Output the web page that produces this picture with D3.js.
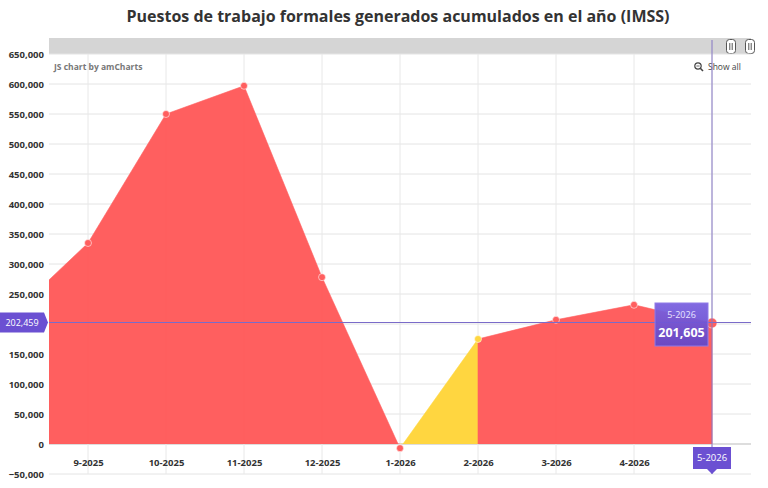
<!DOCTYPE html>
<html><head><meta charset="utf-8">
<script src="https://cdn.jsdelivr.net/npm/d3@7"></script>
<style>
html,body{margin:0;padding:0;background:#fff;}
svg{display:block;font-family:"Open Sans",sans-serif;}
</style></head>
<body>
<svg id="chart" width="768" height="488"></svg>
<script>
// ---- data ----
const months = ["8-2025","9-2025","10-2025","11-2025","12-2025","1-2026","2-2026","3-2026","4-2026","5-2026"];
const values = [212000, 335000, 550000, 597000, 278000, -7000, 175000, 207000, 232000, 201605];
const visibleMonths = ["9-2025","10-2025","11-2025","12-2025","1-2026","2-2026","3-2026","4-2026","5-2026"];
const highlightedSegmentEnds = ["2-2026"];
const yTicks = [-50000,0,50000,100000,150000,200000,250000,300000,350000,400000,450000,500000,550000,600000,650000];
const titleText = "Puestos de trabajo formales generados acumulados en el año (IMSS)";
const cursorMonth = "5-2026";
const cursorValue = 202459;

// ---- styles ----
const RED = "#ff5f5f", YELLOW = "#ffd640", PURPLE = "#6b50d2", TXT = "#333";
const L = 49, R = 751, T = 54, B = 474;

const svg = d3.select("#chart");
const x = d3.scalePoint().domain(months).range([10, 712]);
const y = d3.scaleLinear().domain([-50000, 650000]).range([B, T]);
const cx = x(cursorMonth), cy = y(cursorValue);

svg.append("text").attr("x", 398).attr("y", 22).attr("text-anchor", "middle")
  .attr("font-size", 16).attr("font-weight", "bold").attr("fill", TXT).text(titleText);

// scrollbar
svg.append("rect").attr("x", L).attr("y", 38).attr("width", R - L).attr("height", 16).attr("fill", "#d5d5d5");
[731, 750].forEach(gx => {
  const g = svg.append("g");
  g.append("rect").attr("x", gx - 4.5).attr("y", 39.5).attr("width", 9).attr("height", 14).attr("rx", 3)
    .attr("fill", "#fff").attr("stroke", "#555").attr("stroke-width", 1);
  g.append("line").attr("x1", gx - 1.2).attr("x2", gx - 1.2).attr("y1", 43).attr("y2", 50).attr("stroke", "#555");
  g.append("line").attr("x1", gx + 1.2).attr("x2", gx + 1.2).attr("y1", 43).attr("y2", 50).attr("stroke", "#555");
});

const defs = svg.append("defs");
defs.append("clipPath").attr("id", "plot").append("rect")
  .attr("x", L).attr("y", T).attr("width", R - L).attr("height", B - T);
defs.append("clipPath").attr("id", "above0").append("rect")
  .attr("x", L).attr("y", T).attr("width", R - L).attr("height", y(0) - T);

// grid
const grid = svg.append("g");
grid.selectAll(".hg").data(yTicks).join("line")
  .attr("x1", L).attr("x2", R).attr("y1", d => y(d)).attr("y2", d => y(d))
  .attr("stroke", d => d === 0 ? "#bbb" : "#e4e4e4").attr("stroke-width", 1);
grid.selectAll(".vg").data(visibleMonths).join("line")
  .attr("x1", d => x(d)).attr("x2", d => x(d)).attr("y1", T).attr("y2", B)
  .attr("stroke", "#e8e8e8").attr("stroke-width", 1);

// y axis (label under the cursor tooltip is hidden, as in the original)
const yAxis = svg.append("g").attr("transform", `translate(${L - 5},0)`)
  .call(d3.axisLeft(y).tickValues(yTicks).tickSize(0).tickPadding(0).tickFormat(d3.format(",")));
yAxis.select(".domain").remove();
yAxis.selectAll("text").attr("font-size", 9.5).attr("font-weight", "bold").attr("fill", TXT)
  .attr("font-family", "Open Sans");
yAxis.selectAll(".tick").filter(d => Math.abs(y(d) - cy) < 12).remove();

// x axis
const xAxis = svg.append("g").attr("transform", `translate(0,${y(0)})`)
  .call(d3.axisBottom(x).tickValues(visibleMonths).tickSize(0).tickPadding(15));
xAxis.select(".domain").remove();
xAxis.selectAll("text").attr("font-size", 9.5).attr("font-weight", "bold").attr("fill", TXT)
  .attr("font-family", "Open Sans");
xAxis.selectAll(".tick").filter(d => d === cursorMonth).remove();

// areas per segment
const pts = months.map((m, i) => ({m, v: values[i]}));
const area = d3.area().x(d => x(d.m)).y0(y(0)).y1(d => y(d.v));
const fills = svg.append("g").attr("clip-path", "url(#plot)").append("g").attr("clip-path", "url(#above0)");
for (let i = 0; i < pts.length - 1; i++) {
  const hl = highlightedSegmentEnds.includes(pts[i + 1].m);
  fills.append("path").datum([pts[i], pts[i + 1]]).attr("d", area)
    .attr("fill", hl ? YELLOW : RED).attr("stroke", hl ? YELLOW : RED).attr("stroke-width", 0.6);
}

// bullets
const dots = svg.append("g").attr("clip-path", "url(#plot)");
dots.selectAll("circle").data(pts.filter(d => visibleMonths.includes(d.m))).join("circle")
  .attr("cx", d => x(d.m)).attr("cy", d => y(d.v))
  .attr("r", d => d.m === cursorMonth ? 5 : 3.5)
  .attr("fill", d => highlightedSegmentEnds.includes(d.m) ? YELLOW : RED)
  .attr("stroke", "#fff").attr("stroke-opacity", 0.55).attr("stroke-width", 1);

// watermark & show all
svg.append("text").attr("x", 54).attr("y", 70).attr("font-size", 8.5).attr("font-weight", "bold")
  .attr("fill", "#777").text("JS chart by amCharts");
const zg = svg.append("g").attr("transform", "translate(698,67)");
zg.append("circle").attr("cx", 0).attr("cy", -1).attr("r", 3.2).attr("fill", "none").attr("stroke", "#444").attr("stroke-width", 1.2);
zg.append("line").attr("x1", 2.3).attr("y1", 1.3).attr("x2", 5).attr("y2", 4).attr("stroke", "#444").attr("stroke-width", 1.6);
zg.append("line").attr("x1", -1.6).attr("x2", 1.6).attr("y1", -1).attr("y2", -1).attr("stroke", "#444").attr("stroke-width", 0.8);
svg.append("text").attr("x", 708).attr("y", 70).attr("font-size", 8.5).attr("fill", "#444").text("Show all");

// cursor
svg.append("line").attr("x1", L).attr("x2", R).attr("y1", cy).attr("y2", cy).attr("stroke", "#7a6bc9").attr("stroke-width", 1.1);
svg.append("line").attr("x1", cx).attr("x2", cx).attr("y1", 40).attr("y2", B).attr("stroke", "#8577c4").attr("stroke-width", 1);

// y tooltip
svg.append("path").attr("d", `M0,${cy - 10}H44L48,${cy}L44,${cy + 10}H0Z`).attr("fill", PURPLE);
svg.append("text").attr("x", 22).attr("y", cy + 3.3).attr("text-anchor", "middle").attr("font-size", 9)
  .attr("fill", "#fff").text(d3.format(",")(cursorValue));

// x tooltip
svg.append("path").attr("d", `M${cx - 19},447H${cx + 19}V469H${cx + 5}L${cx},474L${cx - 5},469H${cx - 19}Z`).attr("fill", PURPLE);
svg.append("text").attr("x", cx).attr("y", 461).attr("text-anchor", "middle").attr("font-size", 9.5)
  .attr("fill", "#fff").text(cursorMonth);

// value tooltip
const lastV = values[months.indexOf(cursorMonth)];
const grad = defs.append("linearGradient").attr("id", "tg").attr("x1", 0).attr("x2", 0).attr("y1", 0).attr("y2", 1);
grad.append("stop").attr("offset", 0).attr("stop-color", "#7b62e0");
grad.append("stop").attr("offset", 1).attr("stop-color", "#6347c8");
svg.append("rect").attr("x", 655).attr("y", 303).attr("width", 53).attr("height", 43)
  .attr("fill", "url(#tg)").attr("fill-opacity", 0.95).attr("stroke", "#8f7ae8").attr("stroke-width", 1);
svg.append("text").attr("x", 681.5).attr("y", 318).attr("text-anchor", "middle").attr("font-size", 9)
  .attr("fill", "#e8e4ff").text(cursorMonth);
svg.append("text").attr("x", 681.5).attr("y", 337).attr("text-anchor", "middle").attr("font-size", 12.5)
  .attr("font-weight", "bold").attr("fill", "#fff").text(d3.format(",")(lastV));
</script>
</body></html>
